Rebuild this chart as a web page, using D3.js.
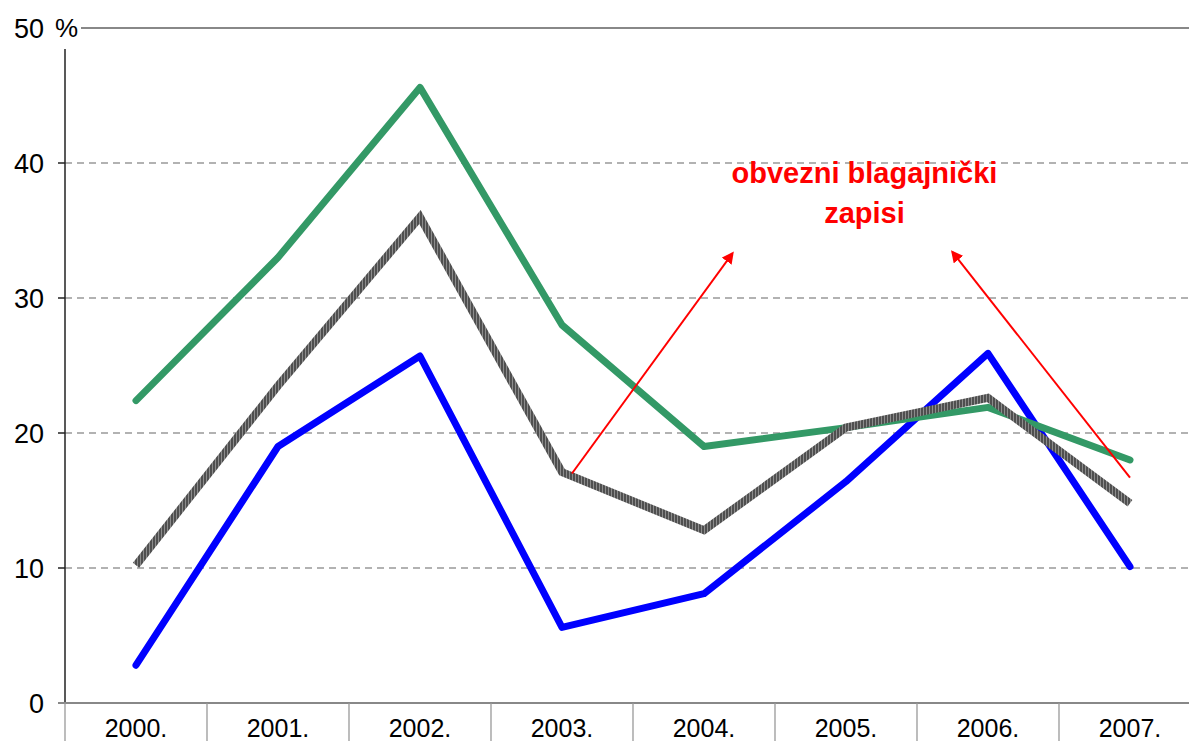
<!DOCTYPE html>
<html>
<head>
<meta charset="utf-8">
<script src="https://cdn.jsdelivr.net/npm/d3@7"></script>
<style>
  html, body { margin: 0; padding: 0; background: #fff; }
  svg { display: block; font-family: "Liberation Sans", Arial, sans-serif; }
</style>
</head>
<body>
<div id="chart"></div>
<script>
const years = ['2000.', '2001.', '2002.', '2003.', '2004.', '2005.', '2006.', '2007.'];
const greenValues = [22.4, 33.0, 45.6, 28.0, 19.0, 20.4, 21.9, 18.0];
const grayValues = [10.2, 23.5, 36.0, 17.1, 12.8, 20.4, 22.6, 14.8];
const blueValues = [2.8, 19.0, 25.7, 5.6, 8.1, 16.4, 25.9, 10.1];
const yTicks = [0, 10, 20, 30, 40, 50];
const noteLines = ['obvezni blagajnički', 'zapisi'];
// arrows in (category position, value) units
const arrows = [
  { from: [3.07, 17.0], to: [4.2, 33.3] },
  { from: [7.0, 16.7], to: [5.75, 33.4] }
];

const W = 1189, H = 741;
const plotLeft = 65, plotTop = 28, plotBottom = 703, bandW = 142;

const svg = d3.select('#chart').append('svg')
  .attr('width', W)
  .attr('height', H);

const defs = svg.append('defs');
const pat = defs.append('pattern')
  .attr('id', 'hatch')
  .attr('patternUnits', 'userSpaceOnUse')
  .attr('width', 3)
  .attr('height', 3);
pat.append('rect').attr('width', 3).attr('height', 3).attr('fill', '#8c8c8c');
pat.append('rect').attr('width', 2).attr('height', 3).attr('fill', '#4f4f4f');

defs.append('marker')
  .attr('id', 'arrowhead')
  .attr('viewBox', '0 0 10 10')
  .attr('refX', 8)
  .attr('refY', 5)
  .attr('markerWidth', 6)
  .attr('markerHeight', 6)
  .attr('markerUnits', 'strokeWidth')
  .attr('orient', 'auto')
  .append('path')
  .attr('d', 'M0,0 L10,5 L0,10 z')
  .attr('fill', 'red');

const x = d3.scaleBand()
  .domain(years)
  .range([plotLeft, plotLeft + bandW * years.length])
  .padding(0);

const xPos = d3.scaleLinear()
  .domain([0, years.length - 1])
  .range([x(years[0]) + x.bandwidth() / 2, x(years[years.length - 1]) + x.bandwidth() / 2]);

const y = d3.scaleLinear()
  .domain([0, 50])
  .range([plotBottom, plotTop]);

// gridlines
svg.append('g')
  .selectAll('line')
  .data(yTicks.filter((d) => d > 0 && d < 50))
  .enter().append('line')
  .attr('x1', plotLeft)
  .attr('x2', W)
  .attr('y1', (d) => y(d))
  .attr('y2', (d) => y(d))
  .style('stroke', '#999')
  .style('stroke-width', 1.3)
  .style('stroke-dasharray', '7,5');

// top border
svg.append('line')
  .attr('x1', 81).attr('x2', W)
  .attr('y1', y(50)).attr('y2', y(50))
  .style('stroke', '#888')
  .style('stroke-width', 2);

// y axis
svg.append('line')
  .attr('x1', plotLeft).attr('x2', plotLeft)
  .attr('y1', 49).attr('y2', plotBottom)
  .style('stroke', '#222')
  .style('stroke-width', 1.5);

svg.append('g')
  .selectAll('line')
  .data(yTicks.filter((d) => d < 50))
  .enter().append('line')
  .attr('x1', plotLeft - 7)
  .attr('x2', plotLeft)
  .attr('y1', (d) => y(d))
  .attr('y2', (d) => y(d))
  .style('stroke', '#222')
  .style('stroke-width', 1.5);

svg.append('g')
  .selectAll('text')
  .data(yTicks)
  .enter().append('text')
  .attr('x', 44)
  .attr('y', (d) => y(d))
  .attr('dy', '0.36em')
  .attr('text-anchor', 'end')
  .style('font-size', '27px')
  .text((d) => d);

svg.append('text')
  .attr('x', 55)
  .attr('y', y(50))
  .attr('dy', '0.36em')
  .style('font-size', '26px')
  .text('%');

// x axis
svg.append('line')
  .attr('x1', plotLeft - 7).attr('x2', W)
  .attr('y1', plotBottom).attr('y2', plotBottom)
  .style('stroke', '#888')
  .style('stroke-width', 2);

svg.append('g')
  .selectAll('line')
  .data(years)
  .enter().append('line')
  .attr('x1', (d) => x(d))
  .attr('x2', (d) => x(d))
  .attr('y1', plotBottom)
  .attr('y2', H)
  .style('stroke', '#999')
  .style('stroke-width', 1.3);

svg.append('g')
  .selectAll('text')
  .data(years)
  .enter().append('text')
  .attr('x', (d) => x(d) + x.bandwidth() / 2)
  .attr('y', 737)
  .attr('text-anchor', 'middle')
  .style('font-size', '25px')
  .text((d) => d);

// series
const line = d3.line()
  .x((d, i) => xPos(i))
  .y((d) => y(d));

svg.append('path')
  .attr('d', line(blueValues))
  .style('fill', 'none')
  .style('stroke', '#0000ff')
  .style('stroke-width', 7)
  .style('stroke-linecap', 'round')
  .style('stroke-linejoin', 'round');

svg.append('path')
  .attr('d', line(greenValues))
  .style('fill', 'none')
  .style('stroke', '#339966')
  .style('stroke-width', 7)
  .style('stroke-linecap', 'round')
  .style('stroke-linejoin', 'round');

svg.append('path')
  .attr('d', line(grayValues))
  .style('fill', 'none')
  .style('stroke', 'url(#hatch)')
  .style('stroke-width', 8)
  .style('stroke-linecap', 'butt')
  .style('stroke-linejoin', 'miter');

// annotation
svg.append('g')
  .selectAll('line')
  .data(arrows)
  .enter().append('line')
  .attr('x1', (d) => xPos(d.from[0]))
  .attr('y1', (d) => y(d.from[1]))
  .attr('x2', (d) => xPos(d.to[0]))
  .attr('y2', (d) => y(d.to[1]))
  .style('stroke', 'red')
  .style('stroke-width', 2)
  .attr('marker-end', 'url(#arrowhead)');

svg.append('g')
  .selectAll('text')
  .data(noteLines)
  .enter().append('text')
  .attr('x', xPos(5.13))
  .attr('y', (d, i) => y(38.5) + i * 40)
  .attr('text-anchor', 'middle')
  .style('font-size', '29px')
  .style('font-weight', 'bold')
  .style('fill', 'red')
  .text((d) => d);
</script>
</body>
</html>
